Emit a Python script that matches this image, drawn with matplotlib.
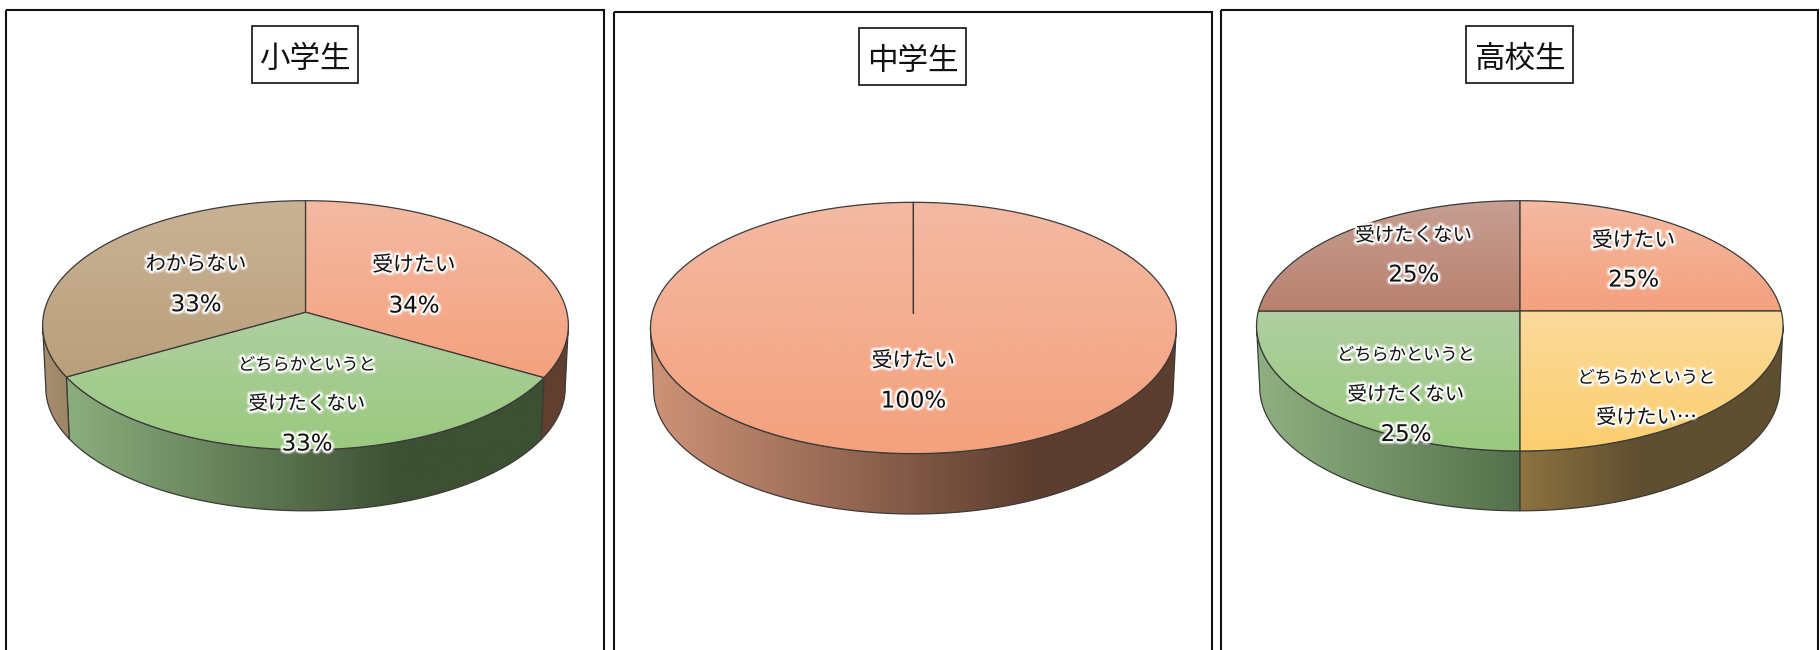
import numpy as np
import matplotlib
matplotlib.use('Agg')
import matplotlib.pyplot as plt
from matplotlib.colors import to_rgb
from matplotlib.patches import Polygon, Rectangle
import matplotlib.patheffects as pe

plt.rcParams['font.family'] = ['DejaVu Sans', 'Noto Sans CJK JP']

# data
panel_titles = ['小学生', '中学生', '高校生']
# the three slices of the first pie are drawn about equal in the picture, only the label says 34%
elementary_values = [33.4, 33.3, 33.3]
junior_values = [100]
high_values = [25, 25, 25, 25]
elementary_labels = ['34%', '33%', '33%']
junior_labels = ['100%']
high_labels = ['25%', '25%', '25%', '25%']
elementary_cats = ['受けたい', 'どちらかというと\n受けたくない', 'わからない']
junior_cats = ['受けたい']
high_cats = ['受けたい', 'どちらかというと\n受けたい…', 'どちらかというと\n受けたくない', '受けたくない']

# top gradient (upper, lower) and wall gradient (left, right, where right colour is reached)
ORANGE = ('#F4B9A2', '#F4A17D', '#CE9378', '#5C3D2E', 0.73)
GREEN = ('#AFCFA0', '#9AC97F', '#8CAE7E', '#3D5033', 0.70)
TAN = ('#C9B294', '#B9A07C', '#A68E6E', '#9C8566', 1.0)
ROSE = ('#C79F92', '#B9806E', '#A08070', '#806050', 1.0)
YELLOW = ('#FBDA9B', '#FBCE6E', '#8D7340', '#5F4E30', 0.45)
GREEN2 = ('#AFCFA0', '#9AC97F', '#8FB082', '#54704A', 1.0)
ORANGE_SMALL = ('#F4B9A2', '#F4A17D', '#603F30', '#603F30', 1.0)

# kana sit tighter in the original font, so long lines get a smaller size to keep their width
LINE_SIZES = {'受けたい': 15, '受けたい…': 14.5, 'わからない': 14.5, '受けたくない': 14, 'どちらかというと': 12.4}

# layout, all in pixels of the 1820x650 picture
panels = [
    dict(values=elementary_values, cats=elementary_cats, labels=elementary_labels, styles=[ORANGE_SMALL, GREEN, TAN],
         frame=(6, 10.4, 603.6), box=(252, 25.7, 358, 83.3),
         cx=305.5, left=42.3, right=568, top=200.7, mid=312.2, bot=449.8, wall=510.8,
         text=[(414, [265, 306]), (307, [365, 404, 444]), (196, [264.5, 304.7])]),
    dict(values=junior_values, cats=junior_cats, labels=junior_labels, styles=[ORANGE],
         frame=(613.8, 11.6, 1211.5), box=(859.3, 27.8, 966, 85),
         cx=913.4, left=650.2, right=1176, top=202.3, mid=313.8, bot=453.6, wall=514,
         text=[(913.4, [360.7, 401])]),
    dict(values=high_values, cats=high_cats, labels=high_labels, styles=[ORANGE, YELLOW, GREEN2, ROSE],
         frame=(1220.5, 10.4, 1818), box=(1466, 25.7, 1573, 83.3),
         cx=1519.8, left=1256.4, right=1782.9, top=200.7, mid=311, bot=451, wall=510.8,
         text=[(1633.6, [240.5, 280]), (1646.5, [378, 418]), (1406, [355, 394.7, 434.5]),
               (1413.8, [235.5, 275])]),
]


def rim(p, theta, scale=1.0, drop=0.0):
    # circle seen in perspective, theta runs clockwise from the top
    far = p['mid'] - p['top']
    near = p['bot'] - p['mid']
    k = (near - far) / (near + far)
    b = near * (1 - k)
    a = (p['right'] - p['left']) / 2 * np.sqrt(1 - k ** 2)
    u, v = np.sin(theta), -np.cos(theta)
    w = 1 - k * v
    return p['cx'] + scale * a * u / w, p['mid'] + drop + scale * b * v / w


def gradient(ax, poly, c0, c1, vertical, stop=1.0):
    xy = poly.get_xy()
    x0, x1, y0, y1 = xy[:, 0].min(), xy[:, 0].max(), xy[:, 1].min(), xy[:, 1].max()
    t = np.clip(np.linspace(0, 1, 256) / stop, 0, 1)
    img = np.outer(1 - t, to_rgb(c0)) + np.outer(t, to_rgb(c1))
    if vertical:
        img = img[:, None, :]
    else:
        img = img[None, :, :]
    im = ax.imshow(img, extent=(x0, x1, y1, y0), aspect='auto', interpolation='bilinear', zorder=poly.get_zorder())
    ax.add_patch(poly)
    im.set_clip_path(poly)


fig = plt.figure(figsize=(18.2, 6.5), dpi=100)
ax = fig.add_axes([0, 0, 1, 1])

WALL_SCALE = 0.988
EDGE = '#3a3a3a'

for n, p in enumerate(panels):
    x0, y0, x1 = p['frame']
    ax.add_patch(Rectangle((x0, y0), x1 - x0, 700, fill=False, ec='#111111', lw=1.5, zorder=1))
    bx0, by0, bx1, by1 = p['box']
    ax.add_patch(Rectangle((bx0, by0), bx1 - bx0, by1 - by0, fc='white', ec='#111111', lw=1.2, zorder=2))
    ax.text((bx0 + bx1) / 2, (by0 + by1) / 2 + 5, panel_titles[n], fontsize=22,
            ha='center', va='center', family=['Noto Sans CJK JP'], color='#111111', zorder=3)

    drop = p['wall'] - p['mid'] - (p['bot'] - p['mid']) * WALL_SCALE

    # silhouette of the wall: from the widest point on the right round the front to the left
    fine = np.linspace(0, 2 * np.pi, 1441)
    fx, _ = rim(p, fine)
    th_r, th_l = fine[np.argmax(fx)], fine[np.argmin(fx)]

    edges = np.cumsum([0] + p['values']) / sum(p['values']) * 2 * np.pi

    for i, st in enumerate(p['styles']):
        a0, a1 = edges[i], edges[i + 1]
        lo, hi = max(a0, th_r), min(a1, th_l)
        if hi > lo:
            th = np.linspace(lo, hi, 200)
            tx, ty = rim(p, th)
            bx, by = rim(p, th, WALL_SCALE, drop)
            wall = Polygon(np.r_[np.c_[tx, ty], np.c_[bx, by][::-1]], closed=True, fc='none', ec=EDGE, lw=0.9, zorder=4)
            gradient(ax, wall, st[2], st[3], False, st[4])

    for i, st in enumerate(p['styles']):
        th = np.linspace(edges[i], edges[i + 1], 300)
        tx, ty = rim(p, th)
        pts = np.r_[[[p['cx'], p['mid']]], np.c_[tx, ty]]
        face = Polygon(pts, closed=True, fc='none', ec=EDGE, lw=0.9, zorder=5)
        gradient(ax, face, st[0], st[1], True)

    for i, (tx, ys) in enumerate(p['text']):
        lines = p['cats'][i].split('\n') + [p['labels'][i]]
        for line, y in zip(lines, ys):
            is_pct = line.endswith('%')
            ax.text(tx, y, line, ha='center', va='center', fontsize=16.5 if is_pct else LINE_SIZES[line],
                    family=['DejaVu Sans'] if is_pct else ['Noto Sans CJK JP', 'DejaVu Sans'],
                    color='#111111', zorder=7,
                    path_effects=[pe.withStroke(linewidth=5, foreground='white', alpha=0.35),
                                  pe.withStroke(linewidth=3, foreground='white', alpha=0.9)])

ax.set_xlim(0, 1820)
ax.set_ylim(650, 0)
ax.axis('off')

fig.savefig('out.png', dpi=100, facecolor='white')
